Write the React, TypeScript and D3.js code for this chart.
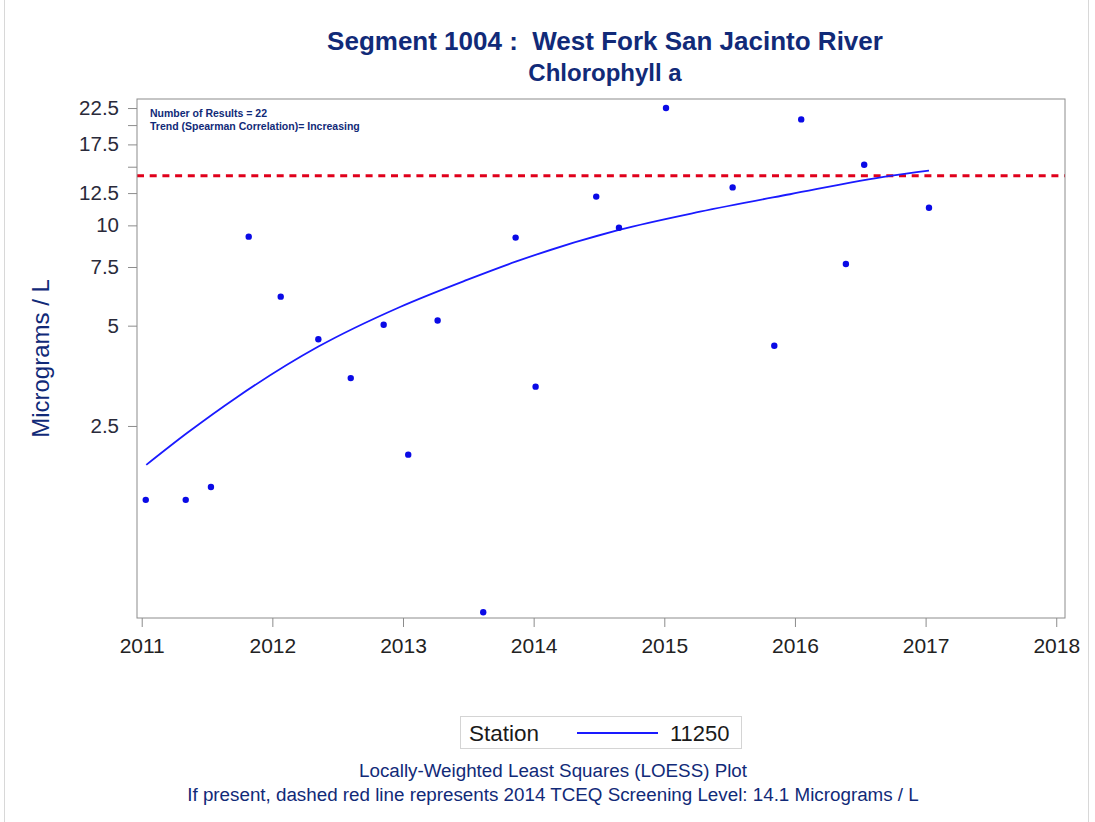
import React from 'react';
import * as d3 from 'd3';

// sample dates (decimal years) and chlorophyll a results, micrograms / L
const sampleYears = [
  2011.031, 2011.337, 2011.530, 2011.819, 2012.064, 2012.352, 2012.600, 2012.852,
  2013.040, 2013.265, 2013.614, 2013.862, 2014.015, 2014.479, 2014.653, 2015.013,
  2015.523, 2015.842, 2016.048, 2016.390, 2016.530, 2017.026,
];
const sampleValues = [
  1.5, 1.5, 1.64, 9.25, 6.11, 4.55, 3.48, 5.03,
  2.05, 5.18, 0.69, 9.19, 3.28, 12.2, 9.84, 22.5,
  13.0, 4.35, 20.8, 7.66, 15.2, 11.3,
];

// loess fit
const loessYears = [
  2011.035, 2011.347, 2011.729, 2012.349, 2012.977, 2013.490,
  2013.862, 2014.653, 2015.273, 2015.962, 2016.728, 2017.026,
];
const loessValues = [1.91, 2.38, 3.05, 4.32, 5.69, 6.86, 7.78, 9.69, 10.99, 12.4, 14.08, 14.6];

const screeningLevel = 14.1;
const xTicks = [2011, 2012, 2013, 2014, 2015, 2016, 2017, 2018];
const yTicks = [2.5, 5, 7.5, 10, 12.5, 15, 17.5, 20, 22.5];
const yTickLabels = ['2.5', '5', '7.5', '10', '12.5', '', '17.5', '', '22.5'];

const stationName = '11250';
const resultCount = sampleValues.length;

const FONT = '"Liberation Sans", Arial, Helvetica, sans-serif';
const NAVY = '#112a78';

type AnySelection = d3.Selection<any, unknown, null, undefined>;

const App: React.FC = () => {
  const svgRef = React.useRef<SVGSVGElement>(null);

  React.useEffect(() => {
    if (!svgRef.current) return;
    const svg = d3.select(svgRef.current);
    svg.selectAll('*').remove();

    const frame = { left: 137, right: 1065, top: 99, bottom: 618 };

    const xScale = d3.scaleLinear()
      .domain([2010.964, 2018.067])
      .range([frame.left, frame.right]);

    const yScale = d3.scaleLog()
      .domain([0.663, 23.95])
      .range([frame.bottom, frame.top]);

    // outer border
    svg.append('rect')
      .attr('x', 4.5).attr('y', -2)
      .attr('width', 1084).attr('height', 830)
      .attr('fill', 'white')
      .attr('stroke', '#d8d8d8');

    // titles
    svg.append('text')
      .attr('x', 605).attr('y', 50)
      .attr('text-anchor', 'middle')
      .attr('font-family', FONT).attr('font-weight', 'bold').attr('font-size', 26)
      .attr('fill', NAVY)
      .attr('xml:space', 'preserve')
      .text('Segment 1004 :  West Fork San Jacinto River');

    svg.append('text')
      .attr('x', 605).attr('y', 81)
      .attr('text-anchor', 'middle')
      .attr('font-family', FONT).attr('font-weight', 'bold').attr('font-size', 24)
      .attr('fill', NAVY)
      .text('Chlorophyll a');

    // axes
    svg.append('g')
      .attr('transform', `translate(0, ${frame.bottom})`)
      .call(d3.axisBottom(xScale).tickValues(xTicks).tickFormat(d3.format('d')).tickSize(9).tickPadding(11).tickSizeOuter(0))
      .call((g: AnySelection) => {
        g.select('.domain').remove();
        g.selectAll('line').attr('stroke', '#8c8c8c');
        g.selectAll('text').attr('font-family', FONT).attr('font-size', 21).attr('fill', '#222');
      });

    svg.append('g')
      .attr('transform', `translate(${frame.left}, 0)`)
      .call(d3.axisLeft(yScale).tickValues(yTicks).tickFormat((_: any, i: number) => yTickLabels[i]).tickSize(9).tickPadding(9).tickSizeOuter(0))
      .call((g: AnySelection) => {
        g.select('.domain').remove();
        g.selectAll('line').attr('stroke', '#8c8c8c');
        g.selectAll('text').attr('font-family', FONT).attr('font-size', 20.5).attr('fill', '#2a2a3a');
      });

    svg.append('text')
      .attr('transform', `translate(49, ${(frame.top + frame.bottom) / 2}) rotate(-90)`)
      .attr('text-anchor', 'middle')
      .attr('font-family', FONT).attr('font-size', 24)
      .attr('fill', NAVY)
      .text('Micrograms / L');

    // screening level
    svg.append('line')
      .attr('x1', frame.left).attr('x2', frame.right)
      .attr('y1', yScale(screeningLevel)).attr('y2', yScale(screeningLevel))
      .attr('stroke', '#e0001b')
      .attr('stroke-width', 3)
      .attr('stroke-dasharray', '7,5.7');

    // loess line
    const line = d3.line<number>()
      .x((_, i) => xScale(loessYears[i]))
      .y(d => yScale(d))
      .curve(d3.curveMonotoneX);

    svg.append('path')
      .datum(loessValues)
      .attr('d', line)
      .attr('fill', 'none')
      .attr('stroke', '#1a1aff')
      .attr('stroke-width', 1.8);

    // observations
    svg.append('g')
      .selectAll('circle')
      .data(sampleValues)
      .join('circle')
        .attr('cx', (_, i) => xScale(sampleYears[i]))
        .attr('cy', d => yScale(d))
        .attr('r', 3.2)
        .attr('fill', '#0a0ae6');

    // plot frame
    svg.append('rect')
      .attr('x', frame.left).attr('y', frame.top)
      .attr('width', frame.right - frame.left).attr('height', frame.bottom - frame.top)
      .attr('fill', 'none')
      .attr('stroke', '#8c8c8c');

    // inset annotation
    const note = svg.append('g')
      .attr('font-family', FONT).attr('font-weight', 'bold').attr('font-size', 10.5)
      .attr('fill', NAVY);
    note.append('text').attr('x', 150).attr('y', 117).text(`Number of Results = ${resultCount}`);
    note.append('text').attr('x', 150).attr('y', 129.5).text('Trend (Spearman Correlation)= Increasing');

    // legend
    const legend = svg.append('g');
    legend.append('rect')
      .attr('x', 460.5).attr('y', 716.5)
      .attr('width', 281).attr('height', 32)
      .attr('fill', 'white')
      .attr('stroke', '#d4d4d4');
    legend.append('text')
      .attr('x', 469).attr('y', 741)
      .attr('font-family', FONT).attr('font-size', 22.5).attr('fill', '#1a1a1a')
      .text('Station');
    legend.append('line')
      .attr('x1', 577).attr('x2', 658).attr('y1', 733).attr('y2', 733)
      .attr('stroke', '#1a1aff').attr('stroke-width', 1.8);
    legend.append('text')
      .attr('x', 670).attr('y', 741)
      .attr('font-family', FONT).attr('font-size', 22).attr('fill', '#1a1a1a')
      .text(stationName);

    // footnotes
    const foot = svg.append('g')
      .attr('font-family', FONT).attr('font-size', 18.8).attr('fill', NAVY)
      .attr('text-anchor', 'middle');
    foot.append('text').attr('x', 553).attr('y', 777).text('Locally-Weighted Least Squares (LOESS) Plot');
    foot.append('text').attr('x', 553).attr('y', 801)
      .text(`If present, dashed red line represents 2014 TCEQ Screening Level: ${screeningLevel} Micrograms / L`);
  }, []);

  return (
    <svg
      ref={svgRef}
      width={1095}
      height={822}
      style={{ position: 'absolute', left: 0, top: 0, background: 'white' }}
    />
  );
};

export default App;
